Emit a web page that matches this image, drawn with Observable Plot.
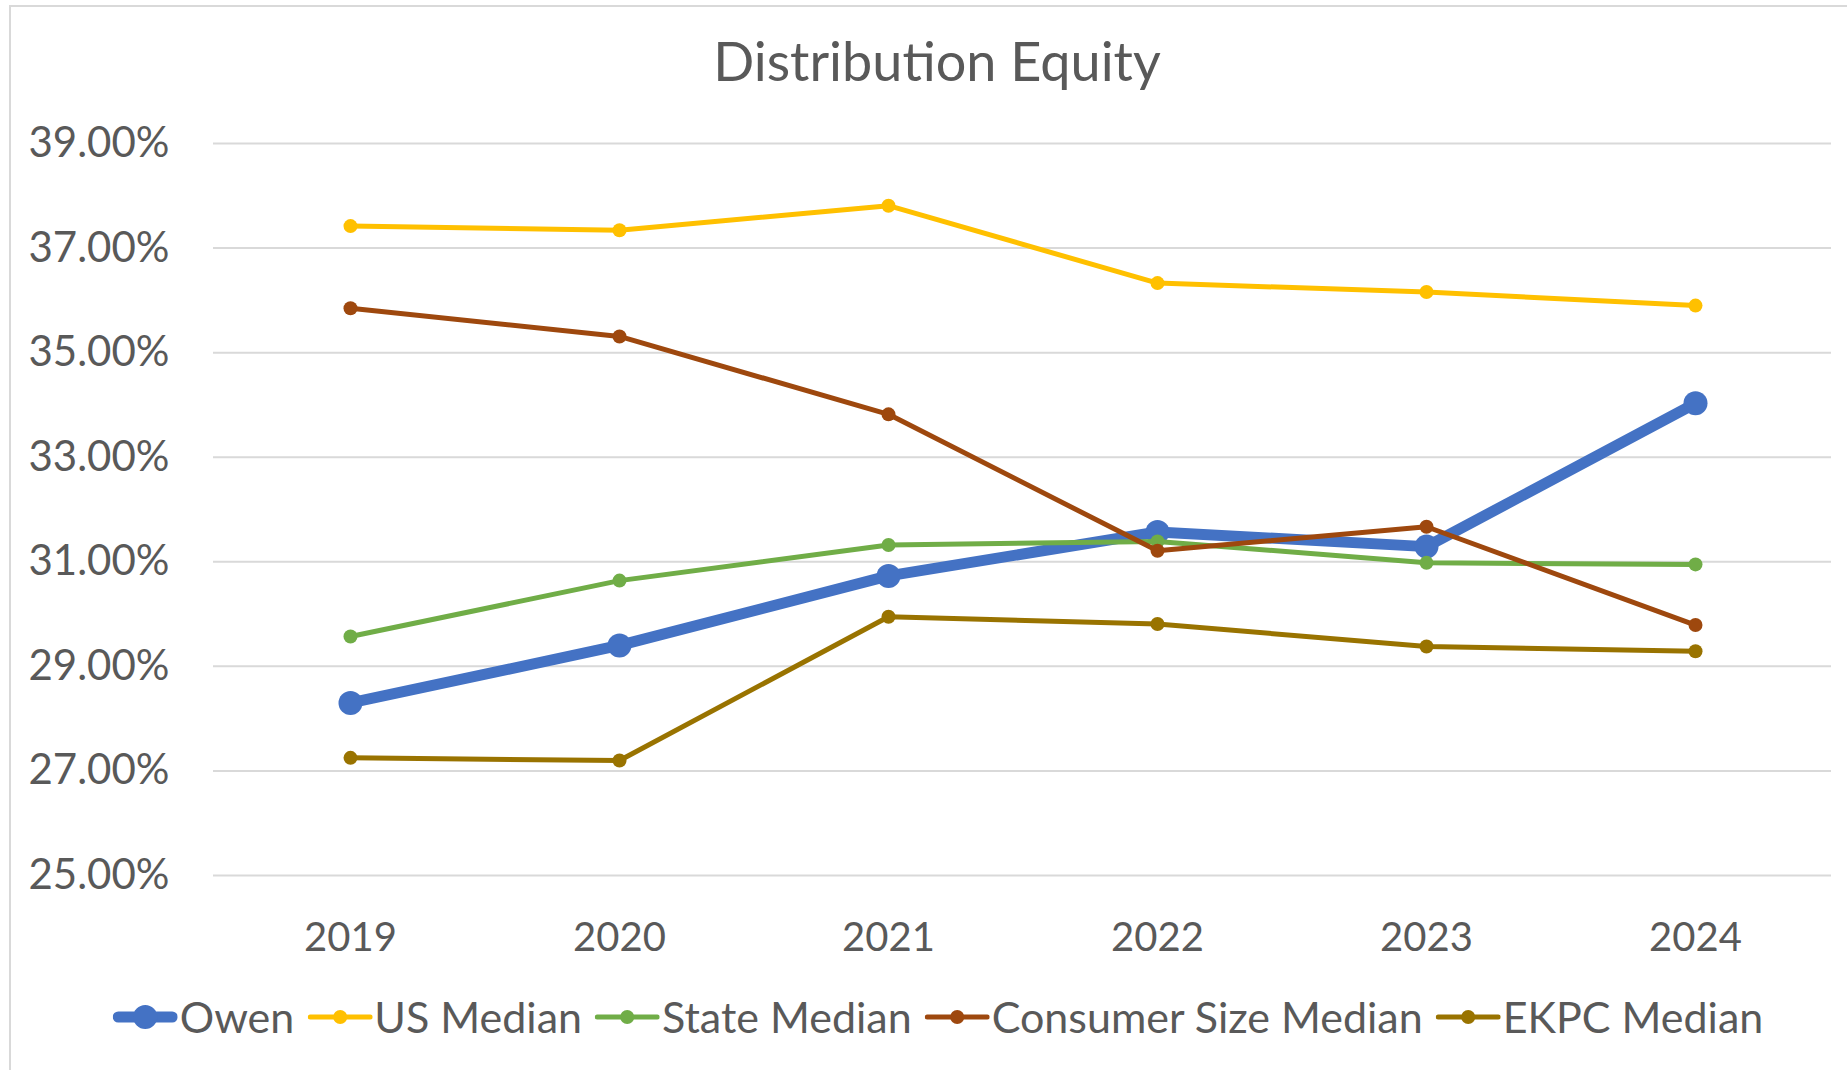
<!DOCTYPE html>
<html>
<head>
<meta charset="utf-8">
<script src="https://cdn.jsdelivr.net/npm/d3@7"></script>
<script src="https://cdn.jsdelivr.net/npm/@observablehq/plot@0.6"></script>
<style>
  html, body { margin: 0; padding: 0; background: #fff; }
  #page { position: relative; width: 1847px; height: 1070px; overflow: hidden; font-family: Lato, "Open Sans", sans-serif; color: #595959; }
  #frame { position: absolute; left: 9px; top: 5px; width: 1900px; height: 1100px; border-left: 2px solid #d9d9d9; border-top: 2px solid #d9d9d9; }
  #title { position: absolute; top: 34px; left: 937px; transform: translateX(-50%); font-size: 54px; line-height: 54px; white-space: nowrap; }
  #chart { position: absolute; top: 100px; left: 0; }
  #legend { position: absolute; top: 995px; left: 938px; transform: translateX(-50%); display: flex; align-items: center; white-space: nowrap; font-size: 43px; line-height: 43px; }
  .item { display: flex; align-items: center; margin-right: 13px; }
  .item:last-child { margin-right: 0; }
  .item span { margin-left: 2px; }
</style>
</head>
<body>
<div id="page">
  <div id="frame"></div>
  <div id="title"></div>
  <div id="chart"></div>
  <div id="legend"></div>
</div>
<script>
const title = "Distribution Equity";
const years = ["2019", "2020", "2021", "2022", "2023", "2024"];
const seriesNames = ["Owen", "US Median", "State Median", "Consumer Size Median", "EKPC Median"];
const owen = [28.30, 29.40, 30.73, 31.57, 31.29, 34.03];
const usMedian = [37.42, 37.34, 37.81, 36.33, 36.16, 35.90];
const stateMedian = [29.57, 30.64, 31.32, 31.39, 30.98, 30.95];
const consumerSizeMedian = [35.85, 35.31, 33.82, 31.21, 31.67, 29.79];
const ekpcMedian = [27.25, 27.20, 29.95, 29.81, 29.38, 29.29];
const yTicks = [25, 27, 29, 31, 33, 35, 37, 39];

const seriesValues = [owen, usMedian, stateMedian, consumerSizeMedian, ekpcMedian];
const colors = ["#4472C4", "#FFC000", "#70AD47", "#9E480E", "#997300"];
const widths = [11, 5, 5, 5, 5];
const radii = [12, 7, 7, 7, 7];

const data = seriesNames.flatMap((name, s) =>
  years.map((year, i) => ({series: name, year, value: seriesValues[s][i]}))
);

document.getElementById("title").textContent = title;

const marks = [
  Plot.gridY(yTicks, {stroke: "#d9d9d9", strokeOpacity: 1, strokeWidth: 2}),
  Plot.axisY(yTicks, {tickSize: 0, tickPadding: 44, tickFormat: d => d.toFixed(2) + "%", fill: "#595959", fontSize: 42}),
  Plot.axisX({tickSize: 0, tickPadding: 47, fill: "#595959", fontSize: 40})
];
seriesNames.forEach((name, s) => {
  const rows = data.filter(d => d.series === name);
  marks.push(Plot.line(rows, {x: "year", y: "value", stroke: colors[s], strokeWidth: widths[s], strokeLinejoin: "round", strokeLinecap: "round"}));
  marks.push(Plot.dot(rows, {x: "year", y: "value", r: radii[s], fill: colors[s], stroke: "none"}));
});

const chart = Plot.plot({
  width: 1847,
  height: 870,
  marginTop: 43,
  marginBottom: 95,
  marginLeft: 213,
  marginRight: 16,
  style: {fontFamily: "Lato, 'Open Sans', sans-serif", fontSize: "40px", color: "#595959", background: "transparent"},
  x: {type: "point", domain: years, padding: 0.5, label: null},
  y: {domain: [25, 39], label: null},
  marks
});
document.getElementById("chart").appendChild(chart);

const legend = document.getElementById("legend");
seriesNames.forEach((name, s) => {
  const item = document.createElement("div");
  item.className = "item";
  const ns = "http://www.w3.org/2000/svg";
  const svg = document.createElementNS(ns, "svg");
  svg.setAttribute("width", 65);
  svg.setAttribute("height", 30);
  const line = document.createElementNS(ns, "line");
  line.setAttribute("x1", widths[s] / 2);
  line.setAttribute("x2", 65 - widths[s] / 2);
  line.setAttribute("y1", 15);
  line.setAttribute("y2", 15);
  line.setAttribute("stroke", colors[s]);
  line.setAttribute("stroke-width", widths[s]);
  line.setAttribute("stroke-linecap", "round");
  const c = document.createElementNS(ns, "circle");
  c.setAttribute("cx", 32.5);
  c.setAttribute("cy", 15);
  c.setAttribute("r", radii[s]);
  c.setAttribute("fill", colors[s]);
  svg.appendChild(line);
  svg.appendChild(c);
  const span = document.createElement("span");
  span.textContent = name;
  item.appendChild(svg);
  item.appendChild(span);
  legend.appendChild(item);
});
</script>
</body>
</html>
